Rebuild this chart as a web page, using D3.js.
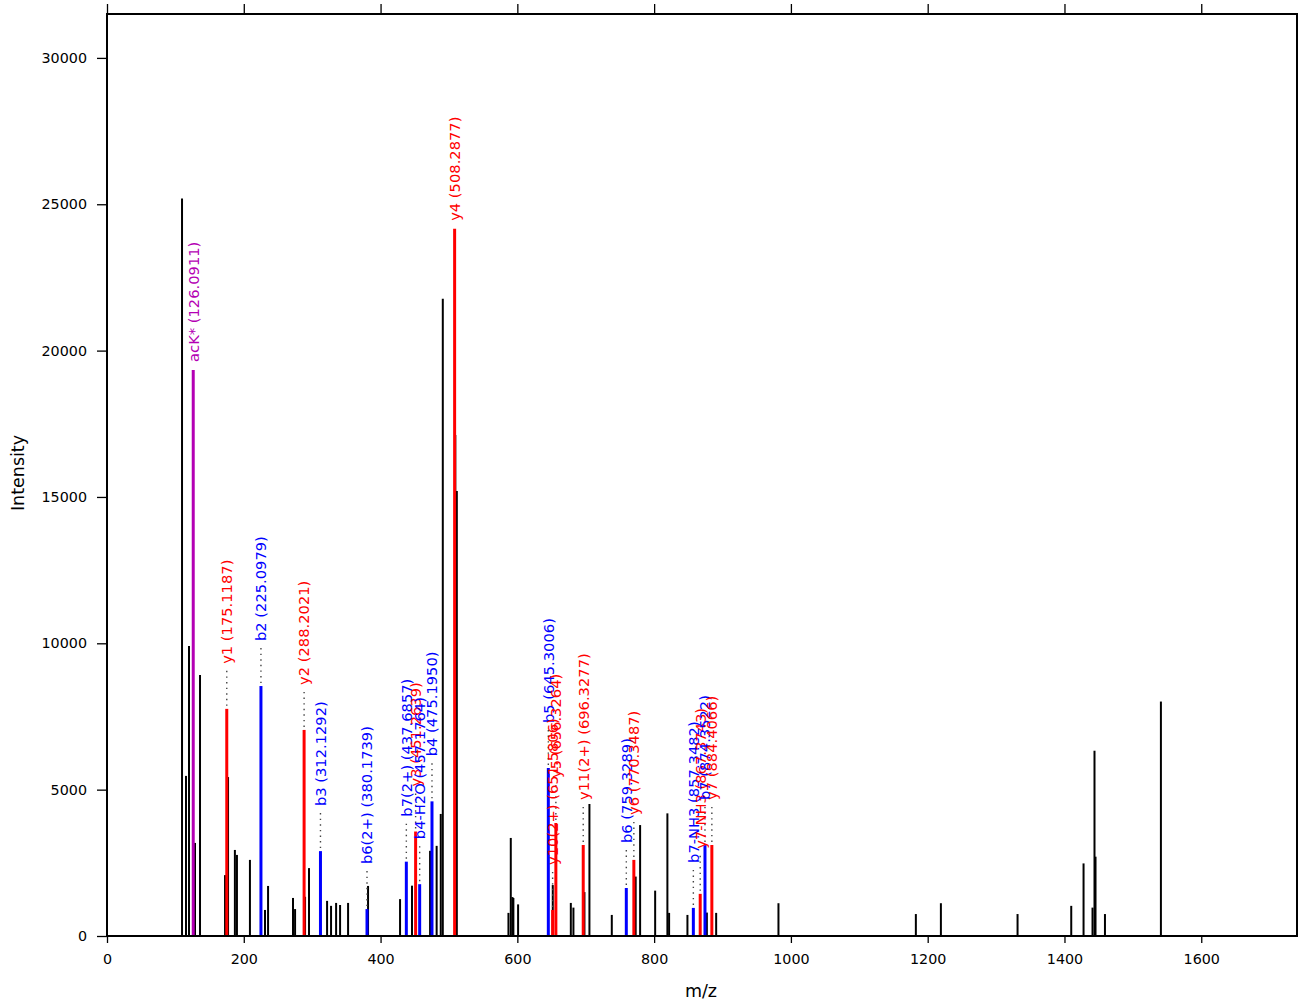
<!DOCTYPE html>
<html>
<head>
<meta charset="utf-8">
<script src="https://cdn.jsdelivr.net/npm/d3@7"></script>
<style>
  body { margin: 0; background: #fff; }
  svg { display: block; font-family: "DejaVu Sans", sans-serif; }
</style>
</head>
<body>
<svg id="chart" width="1298" height="1000"></svg>
<script>
// ---- data ----
const xTicks = [0, 200, 400, 600, 800, 1000, 1200, 1400, 1600];
const yTicks = [0, 5000, 10000, 15000, 20000, 25000, 30000];

// unannotated peaks (m/z, intensity)
const peakMz = [109.7, 115.5, 119.9, 128.7, 136.0, 172.6, 177.0, 187.0, 190.0, 209.0,
  231.0, 235.5, 272.0, 275.0, 289.6, 295.4, 321.8, 327.6, 335.0, 340.8, 352.5, 381.7,
  428.5, 446.0, 472.4, 482.0, 488.0, 491.0, 509.3, 511.5,
  587.0, 590.4, 592.8, 594.2, 601.1, 651.8, 678.2, 682.0, 698.1, 705.4, 738.1, 773.0,
  779.5, 801.5, 819.4, 821.9, 848.7, 877.1, 890.7,
  981.8, 1182.7, 1219.3, 1331.4, 1409.9, 1427.9, 1441.0, 1443.9, 1445.4, 1459.2, 1541.0];
const peakInt = [25200, 5470, 9910, 3180, 8920, 2080, 5430, 2940, 2770, 2600,
  890, 1710, 1300, 920, 1340, 2320, 1200, 1030, 1130, 1060, 1130, 1710,
  1260, 1720, 2910, 3080, 4170, 21770, 17120, 15200,
  790, 3350, 1330, 1300, 1080, 1740, 1130, 970, 1500, 4510, 720, 2030,
  3790, 1550, 4190, 790, 720, 800, 790,
  1120, 750, 1120, 750, 1030, 2480, 970, 6330, 2710, 750, 8010];

// annotated ions
const ionName = ["acK*", "y1", "b2", "y2", "b3", "b6(2+)", "b7(2+)", "y3", "b4-H2O", "b4",
  "y4", "b5", "y10(2+)", "y5", "y11(2+)", "b6", "y6", "b7-NH3", "y7-NH3", "b7", "y7"];
const ionMz = [126.0911, 175.1187, 225.0979, 288.2021, 312.1292, 380.1739, 437.6857,
  451.2639, 457.1764, 475.1950, 508.2877, 645.3006, 651.5806, 656.3264, 696.3277,
  759.3289, 770.3487, 857.3482, 867.3743, 874.3522, 884.4066];
const ionInt = [19340, 7760, 8540, 7040, 2900, 920, 2540, 3570, 1770, 4600,
  24160, 5740, 890, 3860, 3110, 1640, 2600, 960, 1440, 3110, 3110];
const ionType = ["imm", "y", "b", "y", "b", "b", "b", "y", "b", "b",
  "y", "b", "y", "y", "y", "b", "y", "b", "y", "b", "y"];

const typeColor = { b: "#0000ff", y: "#ff0000", imm: "#b400b4" };

// ---- layout ----
const svg = d3.select("#chart");
const mLeft = 107, mRight = 1297, mTop = 14, mBottom = 936;

const x = d3.scaleLinear().domain([0, 1740]).range([mLeft, mRight]);
const y = d3.scaleLinear().domain([0, 31500]).range([mBottom, mTop]);

// peaks (black)
svg.append("g").selectAll("line")
  .data(peakMz.map((m, i) => ({ mz: m, int: peakInt[i] })))
  .join("line")
  .attr("x1", d => x(d.mz)).attr("x2", d => x(d.mz))
  .attr("y1", y(0)).attr("y2", d => y(d.int))
  .attr("stroke", "#000").attr("stroke-width", 2);

const ions = ionName.map((n, i) => ({
  name: n, mz: ionMz[i], int: ionInt[i], color: typeColor[ionType[i]]
}));

// annotated peaks
svg.append("g").selectAll("line")
  .data(ions)
  .join("line")
  .attr("x1", d => x(d.mz)).attr("x2", d => x(d.mz))
  .attr("y1", y(0)).attr("y2", d => y(d.int))
  .attr("stroke", d => d.color).attr("stroke-width", 3);

const labelGap = d => d.int > 15000 ? 8 : 45;

// dotted leaders
svg.append("g").selectAll("line")
  .data(ions.filter(d => labelGap(d) > 10))
  .join("line")
  .attr("x1", d => x(d.mz)).attr("x2", d => x(d.mz))
  .attr("y1", d => y(d.int) - 3).attr("y2", d => y(d.int) - labelGap(d) + 4)
  .attr("stroke", "#444").attr("stroke-width", 1.4)
  .attr("stroke-dasharray", "1.4,4.2");

// labels
svg.append("g").selectAll("text")
  .data(ions)
  .join("text")
  .attr("transform", d => `translate(${x(d.mz)},${y(d.int) - labelGap(d)}) rotate(-90)`)
  .attr("dy", "0.36em")
  .attr("text-anchor", "start")
  .attr("fill", d => d.color)
  .style("font-size", "14.7px")
  .text(d => `${d.name} (${d.mz.toFixed(4)})`);

// axes
const fmt = d3.format("d");
const gx = svg.append("g").attr("transform", `translate(0,${mBottom})`)
  .call(d3.axisBottom(x).tickValues(xTicks).tickFormat(fmt).tickSize(7).tickPadding(11));
const gxTop = svg.append("g").attr("transform", `translate(0,${mTop})`)
  .call(d3.axisTop(x).tickValues(xTicks).tickFormat("").tickSize(10));
const gy = svg.append("g").attr("transform", `translate(${mLeft},0)`)
  .call(d3.axisLeft(y).tickValues(yTicks).tickFormat(fmt).tickSize(10).tickPadding(10));

[gx, gxTop, gy].forEach(g => {
  g.select(".domain").remove();
  g.selectAll(".tick line").attr("stroke", "#000").attr("stroke-width", 1.3);
  g.selectAll(".tick text").attr("fill", "#000")
    .style("font-size", "14.3px").style("font-family", "DejaVu Sans, sans-serif");
});

// frame
svg.append("rect")
  .attr("x", mLeft).attr("y", mTop)
  .attr("width", mRight - mLeft).attr("height", mBottom - mTop)
  .attr("fill", "none").attr("stroke", "#000").attr("stroke-width", 2);

// axis titles
svg.append("text")
  .attr("x", (mLeft + mRight) / 2 - 1).attr("y", 997)
  .attr("text-anchor", "middle")
  .style("font-size", "17.5px")
  .text("m/z");
svg.append("text")
  .attr("transform", `translate(24,${(mTop + mBottom) / 2 - 2}) rotate(-90)`)
  .attr("text-anchor", "middle")
  .style("font-size", "17.5px")
  .text("Intensity");
</script>
</body>
</html>
